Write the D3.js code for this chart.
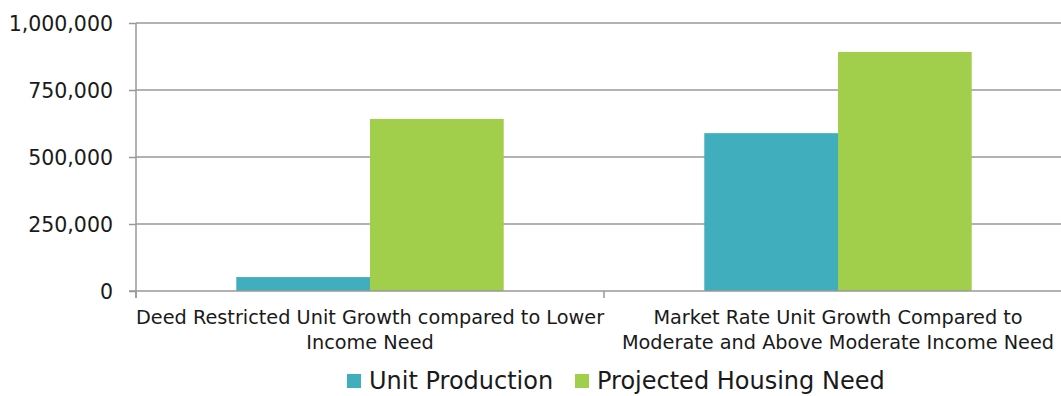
<!DOCTYPE html>
<html>
<head>
<meta charset="utf-8">
<script src="https://cdn.jsdelivr.net/npm/d3@7"></script>
<style>
  body { margin: 0; background: #fff; }
  text { font-family: "DejaVu Sans", sans-serif; fill: #1a1a1a; }
</style>
</head>
<body>
<div id="chart"></div>
<script>
// Chart data
var categories = [
	["Deed Restricted Unit Growth compared to Lower", "Income Need"],
	["Market Rate Unit Growth Compared to", "Moderate and Above Moderate Income Need"]
];
var seriesNames = ["Unit Production", "Projected Housing Need"];
var unitProduction = [52000, 589000];
var projectedNeed = [642000, 892000];
var yTicks = [0, 250000, 500000, 750000, 1000000];
var colors = ["#41aebd", "#a2cf4b"];

var W = 1061, H = 396;
var margin = {top: 23, right: -11, bottom: 105, left: 136};
var width = W - margin.left - margin.right,
	height = H - margin.top - margin.bottom;

var svg = d3.select("#chart").append("svg")
	.attr("width", W)
	.attr("height", H)
	.append("g")
	.attr("transform", "translate(" + margin.left + "," + margin.top + ")");

var x0 = d3.scaleBand()
	.domain(d3.range(categories.length))
	.range([0, width]);

// gap width 150% -> bar = band / 3.5
var x1 = d3.scaleBand()
	.domain(d3.range(seriesNames.length))
	.range([0, x0.bandwidth() * 2 / 3.5]);

var y = d3.scaleLinear()
	.domain([0, 1000000])
	.range([height, 0]);

// gridlines
svg.selectAll(".grid")
	.data(yTicks.slice(1))
	.enter().append("line")
	.attr("x1", 0)
	.attr("x2", width)
	.attr("y1", function(d) { return y(d); })
	.attr("y2", function(d) { return y(d); })
	.style("stroke", "#989898")
	.style("stroke-width", 1.5);

// bars
var values = [unitProduction, projectedNeed];
var groups = svg.selectAll(".group")
	.data(d3.range(categories.length))
	.enter().append("g")
	.attr("transform", function(i) {
		return "translate(" + (x0(i) + x0.bandwidth() * 0.75 / 3.5) + ",0)";
	});

groups.selectAll("rect")
	.data(function(i) { return values.map(function(v, s) { return {s: s, v: v[i]}; }); })
	.enter().append("rect")
	.attr("x", function(d) { return x1(d.s); })
	.attr("width", x1.bandwidth())
	.attr("y", function(d) { return y(d.v); })
	.attr("height", function(d) { return height - y(d.v); })
	.style("fill", function(d) { return colors[d.s]; });

// y axis
var yAxis = d3.axisLeft(y)
	.tickValues(yTicks)
	.tickSize(7)
	.tickPadding(16)
	.tickFormat(d3.format(","));

var gy = svg.append("g").call(yAxis);
gy.select(".domain").attr("d", "M0," + (height + 7) + "V0").style("stroke", "#989898").style("stroke-width", 1.5);
gy.selectAll(".tick line").style("stroke", "#989898").style("stroke-width", 1.5);
gy.selectAll("text")
	.style("font-family", "'DejaVu Sans', sans-serif")
	.style("font-size", "20.5px").style("fill", "#1a1a1a").attr("dy", "0.35em");

// x axis
var gx = svg.append("g").attr("transform", "translate(0," + height + ")");
gx.append("line")
	.attr("x1", -7).attr("x2", width)
	.style("stroke", "#989898").style("stroke-width", 1.5);
gx.selectAll(".xtick")
	.data(d3.range(categories.length + 1))
	.enter().append("line")
	.attr("x1", function(i) { return i * x0.step(); })
	.attr("x2", function(i) { return i * x0.step(); })
	.attr("y1", 0).attr("y2", 7)
	.style("stroke", "#989898").style("stroke-width", 1.5);

var labels = gx.selectAll(".xlabel")
	.data(categories)
	.enter().append("text")
	.attr("text-anchor", "middle")
	.style("font-size", "19.3px")
	.attr("transform", function(d, i) { return "translate(" + (x0(i) + x0.bandwidth() / 2) + ",0)"; });

labels.selectAll("tspan")
	.data(function(d) { return d; })
	.enter().append("tspan")
	.attr("x", 0)
	.attr("y", function(d, j) { return 33 + j * 25; })
	.text(function(d) { return d; });

// legend
var legendX = [347, 575];
var legend = svg.selectAll(".legend")
	.data(seriesNames)
	.enter().append("g")
	.attr("transform", function(d, i) { return "translate(" + (legendX[i] - margin.left) + "," + (374 - margin.top) + ")"; });

legend.append("rect")
	.attr("width", 14)
	.attr("height", 14)
	.style("fill", function(d, i) { return colors[i]; });

legend.append("text")
	.attr("x", 22)
	.attr("y", 7)
	.attr("dy", "0.35em")
	.style("font-size", "24px")
	.text(function(d) { return d; });
</script>
</body>
</html>
